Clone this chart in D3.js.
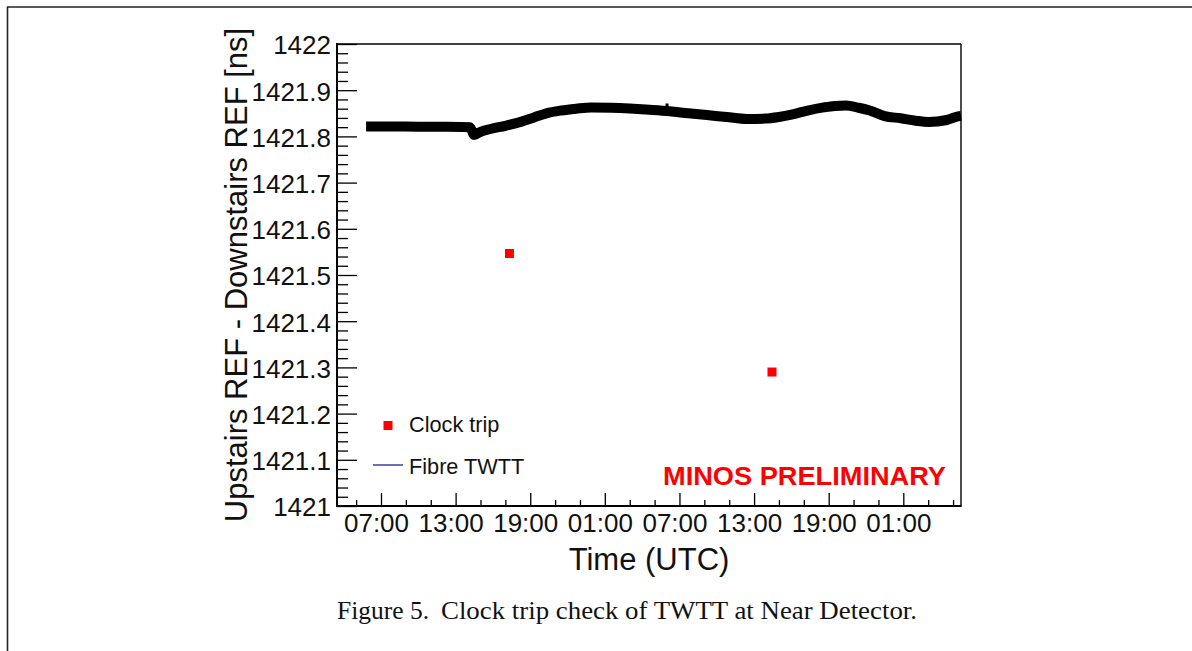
<!DOCTYPE html>
<html>
<head>
<meta charset="utf-8">
<script src="https://cdn.jsdelivr.net/npm/d3@7"></script>
<style>
  html, body { margin: 0; padding: 0; background: #fff; }
  svg { display: block; }
  text.sans { font-family: "Liberation Sans", Arial, Helvetica, sans-serif; }
  text.serif { font-family: "Liberation Serif", "Times New Roman", serif; }
</style>
</head>
<body>
<svg id="chart" width="1192" height="651"></svg>
<script>
// ---- data (hours counted from 00:00 UTC of the first day) ----
const fibreHours = [5.8, 8.0, 10.0, 12.0, 13.5, 14.15, 14.5, 15.0, 15.8, 17.0, 18.3, 19.3, 20.3, 21.5, 22.7, 23.9,
                    25.5, 27.0, 28.6, 30.2, 31.7, 33.2, 34.8, 36.4, 37.9, 39.0, 40.1, 41.3, 42.6, 43.5, 44.4,
                    45.4, 46.3, 47.5, 48.8, 50.0, 51.0, 52.5, 53.4, 53.64];
const fibreValues = [1421.8212, 1421.8215, 1421.8210, 1421.8208, 1421.8205, 1421.8200, 1421.8030, 1421.8100,
                     1421.8160, 1421.8230, 1421.8320, 1421.8411, 1421.8500, 1421.8561, 1421.8600, 1421.8628,
                     1421.8620, 1421.8602, 1421.8575, 1421.8543, 1421.8500, 1421.8461, 1421.8420, 1421.8377,
                     1421.8385, 1421.8420, 1421.8478, 1421.8560, 1421.8628, 1421.8660, 1421.8669,
                     1421.8620, 1421.8561, 1421.8440, 1421.8392, 1421.8340, 1421.8312, 1421.8355, 1421.8435, 1421.8445];
const strayHours = [30.0];
const strayValues = [1421.868];
const tripHours = [17.33, 38.44];
const tripValues = [1421.5465, 1421.29];

const xDomainHours = [3.462, 53.639];
const yDomain = [1421, 1422];
const yMajorTicks = [1421, 1421.1, 1421.2, 1421.3, 1421.4, 1421.5, 1421.6, 1421.7, 1421.8, 1421.9, 1422];
const yTickLabels = ["1421", "1421.1", "1421.2", "1421.3", "1421.4", "1421.5", "1421.6", "1421.7", "1421.8", "1421.9", "1422"];
const xMajorHours = [7, 13, 19, 25, 31, 37, 43, 49];
const xTickLabels = ["07:00", "13:00", "19:00", "01:00", "07:00", "13:00", "19:00", "01:00"];
const xMinorHours = [5, 9, 11, 15, 17, 21, 23, 27, 29, 33, 35, 39, 41, 45, 47, 51, 53];

const legendLabels = ["Clock trip", "Fibre TWTT"];
const xTitle = "Time (UTC)";
const yTitle = "Upstairs REF - Downstairs REF [ns]";
const stamp = "MINOS PRELIMINARY";
const captionHead = "Figure 5.";
const captionBody = "Clock trip check of TWTT at Near Detector.";

// ---- helpers ----
const t0 = Date.UTC(2009, 4, 10);
const toDate = h => new Date(t0 + h * 3600e3);

const svg = d3.select("#chart");
const W = 1192, H = 651;
const plot = { left: 337, right: 961, top: 44, bottom: 506 };

svg.append("rect").attr("width", W).attr("height", H).attr("fill", "#fff");

// page border
svg.append("line").attr("x1", 7).attr("x2", W).attr("y1", 7).attr("y2", 7)
  .attr("stroke", "#222").attr("stroke-width", 1.6);
svg.append("line").attr("x1", 7.5).attr("x2", 7.5).attr("y1", 7).attr("y2", H)
  .attr("stroke", "#222").attr("stroke-width", 1.6);

const x = d3.scaleUtc().domain(xDomainHours.map(toDate)).range([plot.left, plot.right]);
const y = d3.scaleLinear().domain(yDomain).range([plot.bottom, plot.top]);

// y minor ticks (every 0.02)
const yMinor = d3.range(0, 51).map(i => 1421 + i * 0.02).filter(v => Math.abs(v * 10 - Math.round(v * 10)) > 1e-6);
svg.append("g").attr("transform", `translate(${plot.left},0)`)
  .call(d3.axisLeft(y).tickValues(yMinor).tickSizeInner(-11).tickSizeOuter(0).tickFormat(""))
  .call(g => g.select(".domain").remove())
  .call(g => g.selectAll("line").attr("stroke", "#000").attr("stroke-width", 1.3));

// y major ticks
svg.append("g").attr("transform", `translate(${plot.left},0)`)
  .call(d3.axisLeft(y).tickValues(yMajorTicks).tickSizeInner(-20).tickSizeOuter(0).tickPadding(6)
        .tickFormat((d, i) => yTickLabels[i]))
  .call(g => g.select(".domain").remove())
  .call(g => g.selectAll("line").attr("stroke", "#000").attr("stroke-width", 1.3))
  .call(g => g.selectAll("text").attr("class", "sans").attr("font-size", 26).attr("fill", "#111").attr("dy", "0.38em"));

// x minor ticks
svg.append("g").attr("transform", `translate(0,${plot.bottom})`)
  .call(d3.axisBottom(x).tickValues(xMinorHours.map(toDate)).tickSizeInner(-6).tickSizeOuter(0).tickFormat(""))
  .call(g => g.select(".domain").remove())
  .call(g => g.selectAll("line").attr("stroke", "#000").attr("stroke-width", 1.3));

// x major ticks
svg.append("g").attr("transform", `translate(0,${plot.bottom})`)
  .call(d3.axisBottom(x).tickValues(xMajorHours.map(toDate)).tickSizeInner(-13).tickSizeOuter(0).tickPadding(7.5)
        .tickFormat((d, i) => xTickLabels[i]))
  .call(g => g.select(".domain").remove())
  .call(g => g.selectAll("line").attr("stroke", "#000").attr("stroke-width", 1.3))
  .call(g => g.selectAll("text").attr("class", "sans").attr("font-size", 26).attr("fill", "#111").attr("x", -5));

// frame
svg.append("line").attr("x1", plot.left).attr("x2", plot.right).attr("y1", plot.top).attr("y2", plot.top)
  .attr("stroke", "#000").attr("stroke-width", 1.6);
svg.append("line").attr("x1", plot.right).attr("x2", plot.right).attr("y1", plot.top).attr("y2", plot.bottom)
  .attr("stroke", "#000").attr("stroke-width", 1.4);
svg.append("line").attr("x1", plot.left).attr("x2", plot.left).attr("y1", plot.top - 1).attr("y2", plot.bottom + 1)
  .attr("stroke", "#000").attr("stroke-width", 2);
svg.append("line").attr("x1", plot.left - 1).attr("x2", plot.right + 0.7).attr("y1", plot.bottom).attr("y2", plot.bottom)
  .attr("stroke", "#000").attr("stroke-width", 2);

// fibre TWTT band (dense markers drawn as a thick line)
const fibre = fibreHours.map((h, i) => [toDate(h), fibreValues[i]]);
const line = d3.line().x(d => x(d[0])).y(d => y(d[1])).curve(d3.curveMonotoneX);
svg.append("path").datum(fibre).attr("d", line)
  .attr("fill", "none").attr("stroke", "#000").attr("stroke-width", 10).attr("stroke-linejoin", "round");

svg.selectAll("rect.stray").data(strayHours).join("rect").attr("class", "stray")
  .attr("x", (h) => x(toDate(h)) - 1.5).attr("y", (h, i) => y(strayValues[i]) - 1.5)
  .attr("width", 3).attr("height", 3).attr("fill", "#000");

// clock trip points
svg.selectAll("rect.trip").data(tripHours).join("rect").attr("class", "trip")
  .attr("x", h => x(toDate(h)) - 4.5).attr("y", (h, i) => y(tripValues[i]) - 4.5)
  .attr("width", 9).attr("height", 9).attr("fill", "#ff0000");

// legend
svg.append("rect").attr("x", 383.5).attr("y", 421).attr("width", 9).attr("height", 9).attr("fill", "#ff0000");
svg.append("text").attr("class", "sans").attr("x", 409).attr("y", 432).attr("font-size", 21.7).attr("fill", "#111").text(legendLabels[0]);
svg.append("line").attr("x1", 373).attr("x2", 403).attr("y1", 465).attr("y2", 465)
  .attr("stroke", "#4a4aae").attr("stroke-width", 1.6);
svg.append("text").attr("class", "sans").attr("x", 409).attr("y", 474).attr("font-size", 21.7).attr("fill", "#111").text(legendLabels[1]);

// stamp
svg.append("text").attr("class", "sans").attr("x", 663).attr("y", 485).attr("font-size", 25).attr("font-weight", "bold")
  .attr("fill", "#ff0000").attr("textLength", 283).attr("lengthAdjust", "spacingAndGlyphs").text(stamp);

// axis titles
svg.append("text").attr("class", "sans").attr("x", 649).attr("y", 570).attr("text-anchor", "middle")
  .attr("font-size", 31).attr("fill", "#111").text(xTitle);
svg.append("text").attr("class", "sans").attr("transform", "translate(247,275) rotate(-90)").attr("text-anchor", "middle")
  .attr("font-size", 31).attr("fill", "#111").text(yTitle);

// caption
svg.append("text").attr("class", "serif").attr("x", 337).attr("y", 619).attr("font-size", 25.5)
  .attr("fill", "#111").text(captionHead);
svg.append("text").attr("class", "serif").attr("x", 441).attr("y", 619).attr("font-size", 25.5)
  .attr("fill", "#111").attr("textLength", 476).attr("lengthAdjust", "spacingAndGlyphs").text(captionBody);
</script>
</body>
</html>
